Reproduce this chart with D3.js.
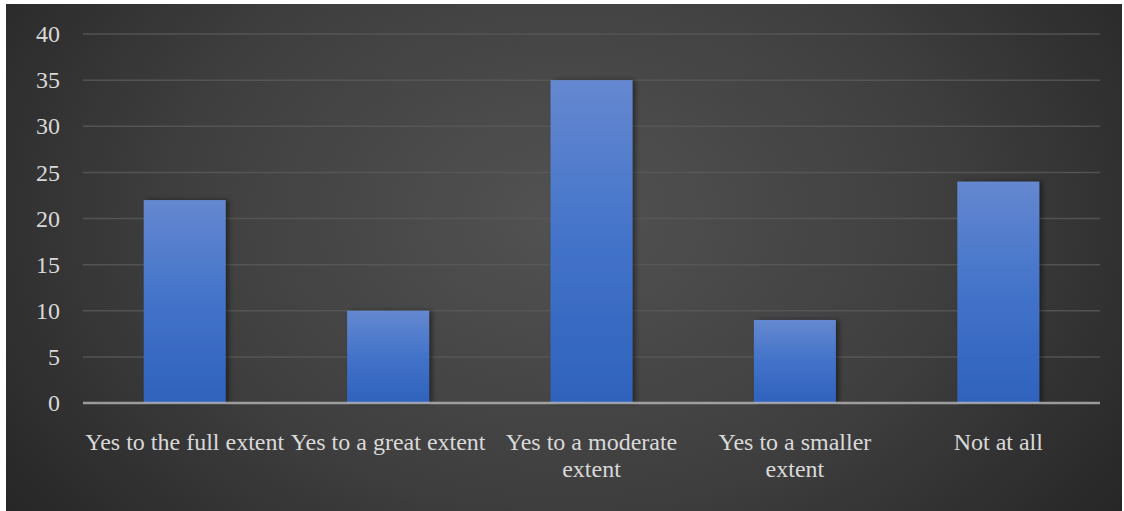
<!DOCTYPE html>
<html>
<head>
<meta charset="utf-8">
<script src="https://cdn.jsdelivr.net/npm/d3@7/dist/d3.min.js"></script>
<style>
  html, body { margin: 0; padding: 0; background: #ffffff; }
  svg { display: block; }
</style>
</head>
<body>
<svg id="chart" width="1124" height="511"></svg>
<script>
// Survey responses by extent
const categories = [
  "Yes to the full extent",
  "Yes to a great extent",
  "Yes to a moderate extent",
  "Yes to a smaller extent",
  "Not at all"
];
const values = [22, 10, 35, 9, 24];
const yTicks = [0, 5, 10, 15, 20, 25, 30, 35, 40];

const W = 1124, H = 511;
const svg = d3.select("#chart");
const defs = svg.append("defs");

// dark radial backdrop
const bg = defs.append("radialGradient")
  .attr("id", "bg").attr("cx", "50%").attr("cy", "42%").attr("r", "62%")
  .attr("gradientTransform", "translate(0.5,0.42) scale(1,1.6) translate(-0.5,-0.42)");
bg.append("stop").attr("offset", "0%").attr("stop-color", "#525252");
bg.append("stop").attr("offset", "55%").attr("stop-color", "#3f3f3f");
bg.append("stop").attr("offset", "100%").attr("stop-color", "#262626");

// bar fill: lighter at top, deeper blue at base
const bar = defs.append("linearGradient")
  .attr("id", "barFill").attr("x1", 0).attr("y1", 0).attr("x2", 0).attr("y2", 1);
bar.append("stop").attr("offset", "0%").attr("stop-color", "#6588d0");
bar.append("stop").attr("offset", "50%").attr("stop-color", "#4273c9");
bar.append("stop").attr("offset", "100%").attr("stop-color", "#2f62bc");

const shadow = defs.append("filter").attr("id", "shadow")
  .attr("x", "-20%").attr("y", "-10%").attr("width", "150%").attr("height", "120%");
shadow.append("feDropShadow")
  .attr("dx", 3).attr("dy", 0).attr("stdDeviation", 2.5)
  .attr("flood-color", "#000").attr("flood-opacity", 0.45);

svg.append("rect")
  .attr("x", 6).attr("y", 4).attr("width", 1116).attr("height", 507)
  .attr("fill", "url(#bg)");

const margin = { left: 83, right: 24, top: 34, bottom: 108 };
const x0 = margin.left, x1 = W - margin.right;
const yTop = margin.top, yBase = H - margin.bottom;

const x = d3.scaleBand()
  .domain(categories)
  .range([x0, x1])
  .paddingInner(0.597)
  .paddingOuter(0.2985);

const y = d3.scaleLinear().domain([0, 40]).range([yBase, yTop]);

// gridlines
svg.append("g")
  .selectAll("line")
  .data(yTicks.filter(d => d > 0))
  .join("line")
  .attr("x1", x0).attr("x2", x1)
  .attr("y1", d => y(d)).attr("y2", d => y(d))
  .attr("stroke", "#5a5a5a")
  .attr("stroke-opacity", 0.8)
  .attr("stroke-width", 1.5);

// y-axis labels
const yAxis = d3.axisLeft(y).tickValues(yTicks).tickSize(0).tickPadding(23);
const gy = svg.append("g").attr("transform", `translate(${x0},0)`).call(yAxis);
gy.select(".domain").remove();
gy.selectAll("text")
  .attr("fill", "#d9d9d9")
  .style("font-family", "'Liberation Serif', 'Times New Roman', serif")
  .style("font-size", "24px");

// bars
svg.append("g")
  .selectAll("rect")
  .data(values)
  .join("rect")
  .attr("x", (d, i) => x(categories[i]))
  .attr("y", d => y(d))
  .attr("width", x.bandwidth())
  .attr("height", d => yBase - y(d))
  .attr("fill", "url(#barFill)")
  .attr("filter", "url(#shadow)");

// baseline
svg.append("line")
  .attr("x1", x0).attr("x2", x1)
  .attr("y1", yBase).attr("y2", yBase)
  .attr("stroke", "#bfbfbf")
  .attr("stroke-opacity", 0.75)
  .attr("stroke-width", 2.5);

// category labels, wrapped to the band step
const xAxis = d3.axisBottom(x).tickSize(0).tickPadding(0);
const gx = svg.append("g").attr("transform", `translate(0,${yBase})`).call(xAxis);
gx.select(".domain").remove();
const step = x.step();
gx.selectAll("text")
  .attr("fill", "#d9d9d9")
  .attr("dy", null)
  .attr("y", 47)
  .style("font-family", "'Liberation Serif', 'Times New Roman', serif")
  .style("font-size", "24px")
  .each(function(label) {
    const t = d3.select(this);
    const words = label.split(" ");
    t.text(null);
    let line = [];
    let lineNo = 0;
    let tspan = t.append("tspan").attr("x", 0).attr("y", 47);
    for (const w of words) {
      line.push(w);
      tspan.text(line.join(" "));
      if (tspan.node().getComputedTextLength() > step && line.length > 1) {
        line.pop();
        tspan.text(line.join(" "));
        line = [w];
        lineNo++;
        tspan = t.append("tspan").attr("x", 0).attr("y", 47 + lineNo * 27).text(w);
      }
    }
  });
</script>
</body>
</html>
